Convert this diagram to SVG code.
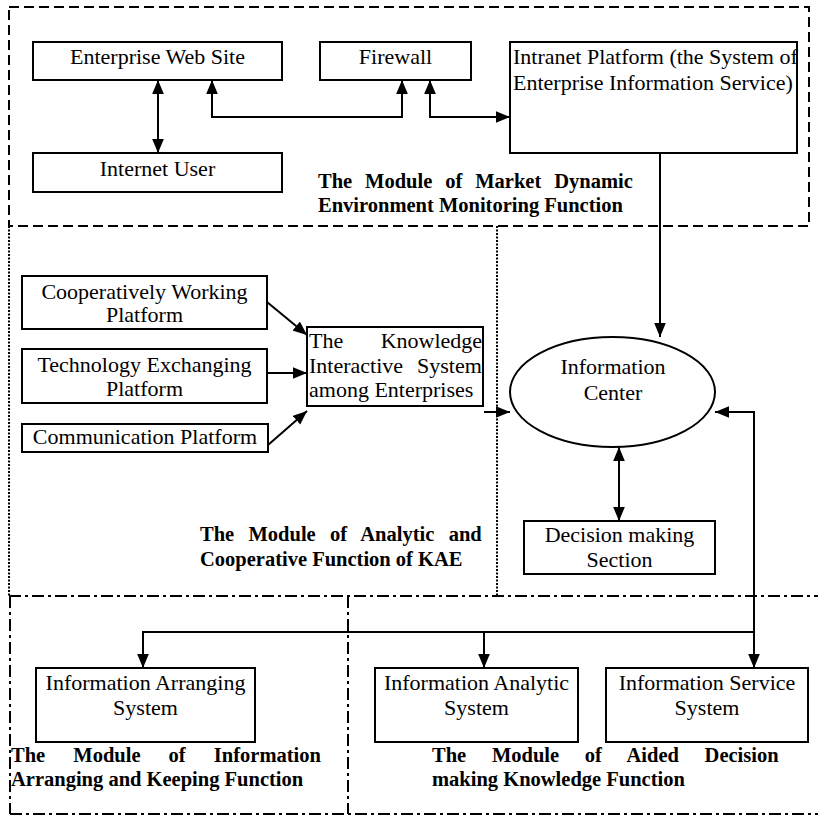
<svg xmlns="http://www.w3.org/2000/svg" width="818" height="818" viewBox="0 0 818 818">
<style>
.bg{fill:#fff}
.box{fill:#fff;stroke:#000;stroke-width:2}
.t{font-family:"Liberation Serif","Times New Roman",serif;font-size:22px;fill:#000}
.c{text-anchor:middle}
.b{font-family:"Liberation Serif","Times New Roman",serif;font-size:20.5px;font-weight:bold;fill:#000}
.ln{fill:none;stroke:#000;stroke-width:2}
.dash{fill:none;stroke:#000;stroke-width:2;stroke-dasharray:10 5}
.dot{fill:none;stroke:#000;stroke-width:2;stroke-dasharray:2 1.5}
.dd{fill:none;stroke:#000;stroke-width:2;stroke-dasharray:12 4 3 4}
</style>
<defs>
<marker id="ah" viewBox="0 0 12 10" refX="12" refY="5" markerWidth="14" markerHeight="12" markerUnits="userSpaceOnUse" orient="auto-start-reverse">
<path d="M0,0 L12,5 L0,10 z" fill="#000"/>
</marker>
</defs>
<rect class="bg" x="0" y="0" width="818" height="818"/>

<g id="modules">
<rect class="dash" x="9" y="7" width="800" height="219"/>
<path class="dot" d="M9,226 V596 M497,226 V596"/>
<path class="dd" d="M9,596 H818 M348,596 V814 M10,596 V814 M10,814 H818"/>
</g>

<g id="connectors">
<line class="ln" x1="158" y1="80" x2="158" y2="153" marker-start="url(#ah)" marker-end="url(#ah)"/>
<path class="ln" d="M212,80 V117 H402 V80" marker-start="url(#ah)" marker-end="url(#ah)"/>
<path class="ln" d="M430,80 V117 H510" marker-start="url(#ah)" marker-end="url(#ah)"/>
<line class="ln" x1="660" y1="153" x2="660" y2="337" marker-end="url(#ah)"/>
<line class="ln" x1="267" y1="302" x2="307" y2="335" marker-end="url(#ah)"/>
<line class="ln" x1="267" y1="373" x2="307" y2="373" marker-end="url(#ah)"/>
<line class="ln" x1="268" y1="445" x2="307" y2="411" marker-end="url(#ah)"/>
<line class="ln" x1="484" y1="412" x2="510" y2="412" marker-end="url(#ah)"/>
<line class="ln" x1="619" y1="447" x2="619" y2="521" marker-start="url(#ah)" marker-end="url(#ah)"/>
<path class="ln" d="M715,412 H754 V668" marker-start="url(#ah)" marker-end="url(#ah)"/>
<path class="ln" d="M143,668 V632 H754"/>
<line class="ln" x1="143" y1="640" x2="143" y2="668" marker-end="url(#ah)"/>
<line class="ln" x1="484" y1="632" x2="484" y2="668" marker-end="url(#ah)"/>
</g>

<g id="enterprise-web-site">
<rect class="box" x="33" y="42" width="249" height="38"/>
<text class="t c" x="157.5" y="64">Enterprise Web Site</text>
</g>
<g id="firewall">
<rect class="box" x="320" y="42" width="151" height="38"/>
<text class="t c" x="395.5" y="64">Firewall</text>
</g>
<g id="intranet-platform">
<rect class="box" x="510" y="42" width="287" height="111"/>
<text class="t" x="513" y="64">Intranet Platform (the System of</text>
<text class="t" x="513" y="90">Enterprise Information Service)</text>
</g>
<g id="internet-user">
<rect class="box" x="33" y="153" width="249" height="39"/>
<text class="t c" x="157.5" y="176">Internet User</text>
</g>
<g id="label-market">
<text class="b" x="318" y="188" word-spacing="7.8">The Module of Market Dynamic</text>
<text class="b" x="318" y="212">Environment Monitoring Function</text>
</g>

<g id="cooperatively-working-platform">
<rect class="box" x="22" y="276" width="245" height="53"/>
<text class="t c" x="144.5" y="299">Cooperatively Working</text>
<text class="t c" x="144.5" y="322">Platform</text>
</g>
<g id="technology-exchanging-platform">
<rect class="box" x="22" y="349" width="245" height="54"/>
<text class="t c" x="144.5" y="372">Technology Exchanging</text>
<text class="t c" x="144.5" y="396">Platform</text>
</g>
<g id="communication-platform">
<rect class="box" x="22" y="424" width="246" height="28"/>
<text class="t c" x="145" y="444">Communication Platform</text>
</g>
<g id="knowledge-interactive-system">
<rect class="box" x="307" y="327" width="176" height="79"/>
<text class="t" x="309" y="348" word-spacing="32">The Knowledge</text>
<text class="t" x="309" y="373" word-spacing="8.5">Interactive System</text>
<text class="t" x="309" y="397">among Enterprises</text>
</g>
<g id="label-analytic">
<text class="b" x="200" y="541" word-spacing="9.2">The Module of Analytic and</text>
<text class="b" x="200" y="566">Cooperative Function of KAE</text>
</g>

<g id="information-center">
<ellipse class="box" cx="612.5" cy="392" rx="102.5" ry="55"/>
<text class="t c" x="613" y="374">Information</text>
<text class="t c" x="613" y="400">Center</text>
</g>
<g id="decision-making-section">
<rect class="box" x="524" y="521" width="191" height="53"/>
<text class="t c" x="619.5" y="542">Decision making</text>
<text class="t c" x="619.5" y="567">Section</text>
</g>

<g id="information-arranging-system">
<rect class="box" x="36" y="668" width="219" height="74"/>
<text class="t c" x="145.5" y="690">Information Arranging</text>
<text class="t c" x="145.5" y="715">System</text>
</g>
<g id="information-analytic-system">
<rect class="box" x="375" y="668" width="203" height="74"/>
<text class="t c" x="476.5" y="690">Information Analytic</text>
<text class="t c" x="476.5" y="715">System</text>
</g>
<g id="information-service-system">
<rect class="box" x="606" y="668" width="202" height="74"/>
<text class="t c" x="707" y="690">Information Service</text>
<text class="t c" x="707" y="715">System</text>
</g>
<g id="label-arranging">
<text class="b" x="11" y="762" word-spacing="23">The Module of Information</text>
<text class="b" x="11" y="786">Arranging and Keeping Function</text>
</g>
<g id="label-aided">
<text class="b" x="432" y="762" word-spacing="20.6">The Module of Aided Decision</text>
<text class="b" x="432" y="786">making Knowledge Function</text>
</g>
</svg>
